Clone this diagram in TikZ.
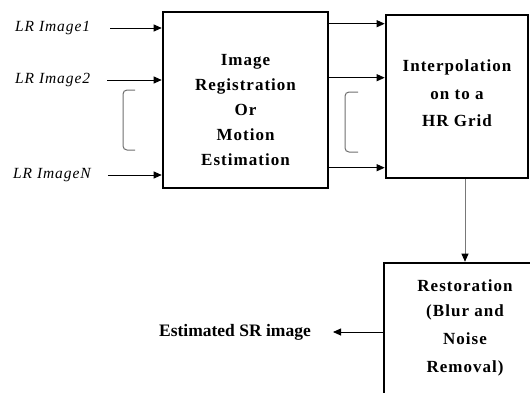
\documentclass[tikz,border=0pt]{standalone}
\usepackage{fontspec}
\setmainfont{Liberation Serif}
\newfontfamily\spacedserif[LetterSpace=6]{Liberation Serif}
\usetikzlibrary{arrows.meta, calc}

\definecolor{BraceGray}{RGB}{110, 110, 110}
\definecolor{LinkGray}{RGB}{120, 120, 120}
\newcommand{\blockfont}{\spacedserif\bfseries\fontsize{17}{25}\selectfont}
\newcommand{\inputfont}{\spacedserif\itshape\fontsize{15.5}{16}\selectfont}

\tikzset{
  blockbox/.style={draw, line width=2.6pt, inner sep=0pt, font=\blockfont},
  inlabel/.style={anchor=west, inner sep=0pt, font=\inputfont},
  flow/.style={-{Triangle[length=8pt, width=7pt, color=black]}, line width=0.9pt},
  bracket/.style={draw=BraceGray, line width=1pt, rounded corners=4pt}
}

\begin{document}
\begin{tikzpicture}[x=1pt, y=-1pt]
    \useasboundingbox (0,0) rectangle (530,392);

    % Registration
    \node[blockbox, minimum width=165pt, minimum height=176pt] (reg) at (245.5,100) {
      \raisebox{-15pt}[0pt][0pt]{\begin{tabular}{c}
        Image\\
        Registration\\
        Or\\
        Motion\\
        Estimation
      \end{tabular}}
    };

    % Interpolation
    \node[blockbox, minimum width=142pt, minimum height=163pt] (interp) at (457,96.5) {
      \raisebox{-2pt}[0pt][0pt]{\begin{tabular}{c}
        Interpolation\\[2.5pt]
        on to a\\[2.5pt]
        HR Grid
      \end{tabular}}
    };

    % Restoration
    \node[blockbox, minimum width=162pt, minimum height=138pt] (restore) at (465,332) {
      \raisebox{1pt}[0pt][0pt]{\begin{tabular}{c}
        Restoration\\
        (Blur and\\[3pt]
        Noise\\[3pt]
        Removal)
      \end{tabular}}
    };

    % Inputs
    \node[inlabel] (in1) at (15,28) {LR Image1};
    \node[inlabel] (in2) at (15,80) {LR Image2};
    \node[inlabel] (inN) at (13,175) {LR ImageN};

    % Output
    \node[anchor=east, inner sep=0pt, font=\bfseries\fontsize{17.5}{20}\selectfont] (out) at (311,332) {Estimated SR image};

    \coordinate (r1) at ($(reg.north east)+(0,13)$);
    \coordinate (r2) at ($(reg.north east)+(0,67)$);
    \coordinate (rN) at ($(reg.north east)+(0,157)$);

    \draw[flow, shorten <=20pt] (in1.east) -- (in1 -| reg.west);
    \draw[flow, shorten <=17pt] (in2.east) -- (in2 -| reg.west);
    \draw[flow, shorten <=17pt] (inN.east) -- (inN -| reg.west);

    \draw[flow] (r1) -- (r1 -| interp.west);
    \draw[flow] (r2) -- (r2 -| interp.west);
    \draw[flow] (rN) -- (rN -| interp.west);

    \draw[flow, draw=LinkGray] (restore.north |- interp.south) -- (restore.north);
    \draw[flow, shorten >=22pt] (restore.west) -- (out.east);

    % brackets
    \draw[bracket] (135,90) -- (123,90) -- (123,150) -- (135,150);
    \draw[bracket] (358,92) -- (345,92) -- (345,152) -- (358,152);
\end{tikzpicture}
\end{document}
